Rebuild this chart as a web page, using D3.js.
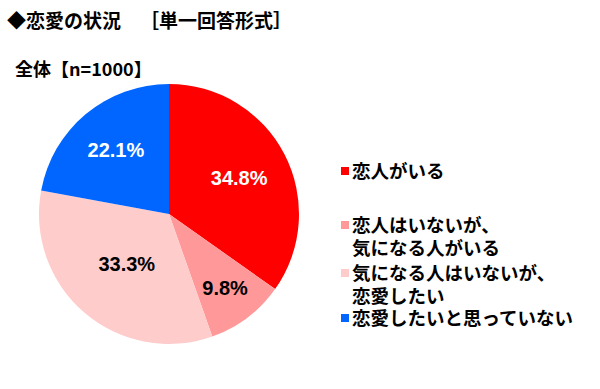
<!DOCTYPE html>
<html>
<head>
<meta charset="utf-8">
<script src="https://cdn.jsdelivr.net/npm/d3@7/dist/d3.min.js"></script>
<style>
  body { margin: 0; background: #fff; }
  text { font-family: "Noto Sans CJK JP", sans-serif; font-weight: 700; text-spacing-trim: space-all; }
  .pct { font-family: "Liberation Sans", Arial, sans-serif; font-weight: 700; }
</style>
</head>
<body>
<div id="chart"></div>
<script>
// data
const categories = ['恋人がいる', '恋人はいないが、\n気になる人がいる', '気になる人はいないが、\n恋愛したい', '恋愛したいと思っていない']
const values = [34.8, 9.8, 33.3, 22.1]
const colors = ['#FF0000', '#FF9999', '#FFCCCC', '#0066FF']
const labelColors = ['#fff', '#000', '#000', '#fff']

const WIDTH = 600, HEIGHT = 389
const CX = 169, CY = 214, R = 130
// label distance from centre, per slice
const labelR = [79, 93, 65, 83]

const svg = d3.select('#chart')
  .append('svg')
    .attr('width', WIDTH)
    .attr('height', HEIGHT)

// titles
svg.append('text')
  .attr('x', 7)
  .attr('y', 28)
  .style('font-size', '19px')
  .text('◆恋愛の状況　［単一回答形式］')

svg.append('text')
  .attr('x', 15)
  .attr('y', 76)
  .style('font-size', '18px')
  .text('全体【n=1000】')

// pie
const pie = d3.pie().sort(null).value(d => d)
const arcs = pie(values)
const arc = d3.arc().innerRadius(0).outerRadius(R)

const g = svg.append('g')
  .attr('transform', `translate(${CX}, ${CY})`)

g.selectAll('path')
  .data(arcs)
  .join('path')
    .attr('d', arc)
    .style('fill', (d, i) => colors[i])

g.selectAll('text.pct')
  .data(arcs)
  .join('text')
    .attr('class', 'pct')
    .attr('transform', (d, i) => {
      const c = d3.arc().innerRadius(labelR[i]).outerRadius(labelR[i]).centroid(d)
      return `translate(${c[0]}, ${c[1]})`
    })
    .attr('text-anchor', 'middle')
    .attr('dy', '0.36em')
    .style('font-size', '20px')
    .style('fill', (d, i) => labelColors[i])
    .text(d => d.data.toFixed(1) + '%')

// legend
const legendY = [171, 225, 273, 318]
const lineH = 23
const legend = svg.append('g')

legend.selectAll('rect')
  .data(categories)
  .join('rect')
    .attr('x', 341)
    .attr('y', (d, i) => legendY[i] - 4)
    .attr('width', 8)
    .attr('height', 8)
    .style('fill', (d, i) => colors[i])

legend.selectAll('text')
  .data(categories)
  .join('text')
    .attr('x', 352)
    .attr('y', (d, i) => legendY[i])
    .style('font-size', '18.5px')
    .each(function(d) {
      d3.select(this).selectAll('tspan')
        .data(d.split('\n'))
        .join('tspan')
          .attr('x', 352)
          .attr('dy', (t, j) => j === 0 ? '0.36em' : lineH)
          .text(t => t)
    })
</script>
</body>
</html>
